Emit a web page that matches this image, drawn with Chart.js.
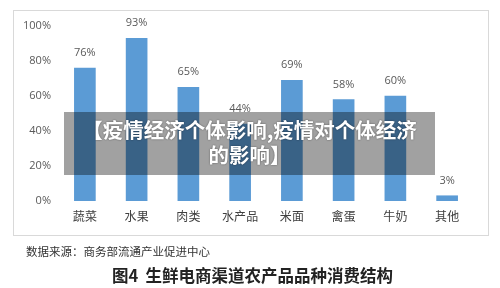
<!DOCTYPE html>
<html lang="zh">
<head>
<meta charset="UTF-8">
<title>生鲜电商渠道农产品品种消费结构</title>
<script src="https://cdn.jsdelivr.net/npm/chart.js"></script>
<style>
  html, body { margin: 0; padding: 0; background: #fff; }
  #wrap { position: relative; width: 500px; height: 288px; overflow: hidden; }
  #box { position: absolute; left: 13px; top: 10px; width: 474px; height: 224px; border: 1px solid #d9d9d9; }
  #chart { position: absolute; left: 0; top: 0; }
  #overlay {
    position: absolute; left: 64px; top: 112px; width: 371px; height: 63px;
    background: rgba(0, 0, 0, 0.37); color: #fff; text-align: center;
    font: bold 20.5px "Noto Sans CJK SC", sans-serif; line-height: 25px;
    box-sizing: border-box; padding-top: 5px; white-space: nowrap;
    text-shadow: 0 0 2px rgba(0,0,0,0.5);
  }
  #source { position: absolute; left: 26px; top: 243px; font: 11.5px "Noto Sans CJK SC", sans-serif; color: #333; }
  #title { position: absolute; left: 0; width: 505px; top: 263px; text-align: center; font: bold 16.5px "Noto Sans CJK SC", sans-serif; color: #222; }
</style>
</head>
<body>
<div id="wrap">
  <div id="box"></div>
  <canvas id="chart" width="500" height="288"></canvas>
  <div id="overlay">【疫情经济个体影响,疫情对个体经济<br>的影响】</div>
  <div id="source">数据来源：商务部流通产业促进中心</div>
  <div id="title">图4&nbsp;&nbsp;生鲜电商渠道农产品品种消费结构</div>
</div>
<script>
  const categories = ["蔬菜", "水果", "肉类", "水产品", "米面", "禽蛋", "牛奶", "其他"];
  const shares = [76, 93, 65, 44, 69, 58, 60, 3];
  const yTicks = [0, 20, 40, 60, 80, 100];

  // 柱顶数值标签
  const valueLabels = {
    id: "valueLabels",
    afterDatasetsDraw(chart) {
      const ctx = chart.ctx;
      const meta = chart.getDatasetMeta(0);
      ctx.save();
      ctx.font = "11px 'Open Sans', 'Liberation Sans', sans-serif";
      ctx.fillStyle = "#595959";
      ctx.textAlign = "center";
      ctx.textBaseline = "middle";
      meta.data.forEach((bar, i) => {
        ctx.fillText(shares[i] + "%", bar.x, bar.y - 15);
      });
      ctx.restore();
    }
  };

  new Chart(document.getElementById("chart"), {
    type: "bar",
    data: {
      labels: categories,
      datasets: [{
        data: shares,
        backgroundColor: "#5b9bd5",
        barThickness: 21
      }]
    },
    options: {
      responsive: false,
      animation: false,
      layout: { padding: { top: 26, right: 27, bottom: 57, left: 0 } },
      plugins: { legend: { display: false }, tooltip: { enabled: false } },
      scales: {
        x: {
          grid: { display: false, drawTicks: false },
          border: { display: false },
          ticks: {
            color: "#404040",
            padding: 8,
            font: { family: "'Noto Sans CJK SC', sans-serif", size: 12 }
          },
          afterFit(scale) { scale.height = 30; }
        },
        y: {
          min: 0,
          max: 100,
          grid: { display: false, drawTicks: false },
          border: { display: false },
          afterBuildTicks(scale) { scale.ticks = yTicks.map(v => ({ value: v })); },
          ticks: {
            color: "#595959",
            padding: 8,
            font: { family: "'Open Sans', 'Liberation Sans', sans-serif", size: 11 },
            callback: v => v + "%"
          },
          afterFit(scale) { scale.width = 59; }
        }
      }
    },
    plugins: [valueLabels]
  });
</script>
</body>
</html>
